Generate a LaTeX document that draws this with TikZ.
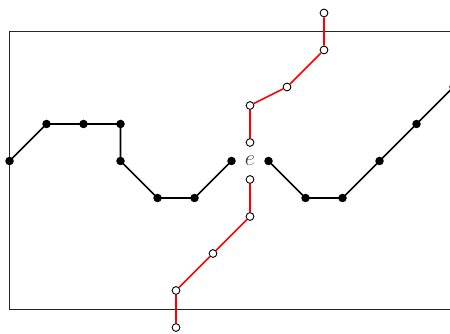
\documentclass[tikz,border=0pt]{standalone}
\begin{document}
\begin{tikzpicture}[x=1cm,y=1cm,
  bdot/.style={circle,fill=black,inner sep=0pt,minimum size=0.23cm},
  wdot/.style={circle,draw=black,fill=white,line width=0.7pt,inner sep=0pt,minimum size=0.21cm},
  bpath/.style={line width=1.2pt,black},
  rpath/.style={line width=1.2pt,red}]
\useasboundingbox (-6.757,-4.649) rectangle (5.405,4.351);
\draw[line width=0.6pt,black!85] (-6.5,-4) rectangle (7,3.5);
% black left
\node[bdot] (l1) at (-6.5,0) {};
\node[bdot] (l2) at (-5.5,1) {};
\node[bdot] (l3) at (-4.5,1) {};
\node[bdot] (l4) at (-3.5,1) {};
\node[bdot] (l5) at (-3.5,0) {};
\node[bdot] (l6) at (-2.5,-1) {};
\node[bdot] (l7) at (-1.5,-1) {};
\node[bdot] (l8) at (-0.5,0) {};
\draw[bpath] (l1.center) -- (l2.center) -- (l3.center) -- (l4.center) -- (l5.center) -- (l6.center) -- (l7.center) -- (l8.center);
% black right
\node[bdot] (r1) at (0.5,0) {};
\node[bdot] (r2) at (1.5,-1) {};
\node[bdot] (r3) at (2.5,-1) {};
\node[bdot] (r4) at (3.5,0) {};
\node[bdot] (r5) at (4.5,1) {};
\node[bdot] (r6) at (5.5,2) {};
\draw[bpath] (r1.center) -- (r2.center) -- (r3.center) -- (r4.center) -- (r5.center) -- (r6.center);
% red upper
\node[wdot] (u1) at (0,0.5) {};
\node[wdot] (u2) at (0,1.5) {};
\node[wdot] (u3) at (1,2) {};
\node[wdot] (u4) at (2,3) {};
\node[wdot] (u5) at (2,4) {};
\draw[rpath] (u1) -- (u2) -- (u3) -- (u4) -- (u5);
% red lower
\node[wdot] (d1) at (0,-0.5) {};
\node[wdot] (d2) at (0,-1.5) {};
\node[wdot] (d3) at (-1,-2.5) {};
\node[wdot] (d4) at (-2,-3.5) {};
\node[wdot] (d5) at (-2,-4.5) {};
\draw[rpath] (d1) -- (d2) -- (d3) -- (d4) -- (d5);
\node[text=black!75,inner sep=0pt] (e) at (0,0) {\LARGE$e$};
\end{tikzpicture}
\end{document}
